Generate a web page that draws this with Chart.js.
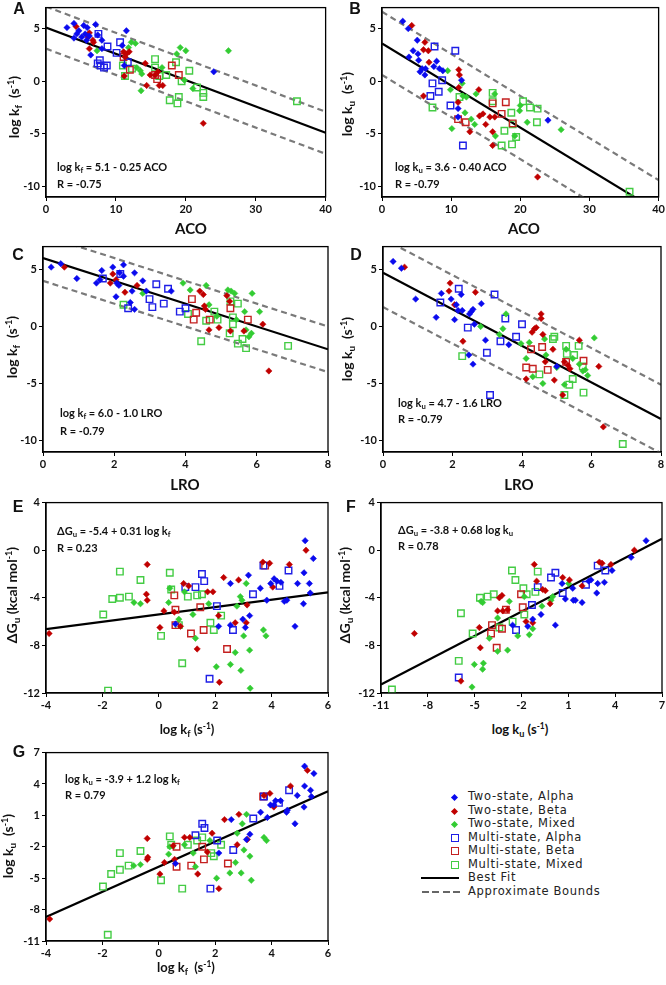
<!DOCTYPE html>
<html>
<head>
<meta charset="utf-8">
<script src="https://cdn.jsdelivr.net/npm/chart.js@4.4.1/dist/chart.umd.min.js"></script>
<style>
body { margin:0; background:#fff; width:666px; height:985px; position:relative; overflow:hidden; font-family:Lato, sans-serif; color:#111; }
canvas { position:absolute; }
.t { position:absolute; white-space:nowrap; font-weight:bold; line-height:1; transform:translateY(-50%); }
.c { transform:translate(-50%,-50%); }
.r { transform:translate(-50%,-50%) rotate(-90deg); }
.eq { font-size:11px; }
.ax { font-size:14px; }
.pl { font-family:"Liberation Sans", Arial, sans-serif; font-size:16px; }
.sb { font-size:70%; vertical-align:-0.3em; }
.sp { font-size:65%; vertical-align:0.55em; }
#legend { position:absolute; left:0; top:0; font-family:"DejaVu Sans", sans-serif; font-size:11.5px; color:#222; }
#legend div { position:absolute; white-space:nowrap; line-height:1; transform:translateY(-50%); letter-spacing:0.7px; }
.mk { position:absolute; box-sizing:border-box; }
</style>
</head>
<body>
<canvas id="pA"></canvas>
<canvas id="pB"></canvas>
<canvas id="pC"></canvas>
<canvas id="pD"></canvas>
<canvas id="pE"></canvas>
<canvas id="pF"></canvas>
<canvas id="pG"></canvas>

<!-- panel letters -->
<div class="t c pl" style="left:19px;top:9px">A</div>
<div class="t c pl" style="left:355px;top:9px">B</div>
<div class="t c pl" style="left:18px;top:255px">C</div>
<div class="t c pl" style="left:356px;top:255px">D</div>
<div class="t c pl" style="left:18px;top:507px">E</div>
<div class="t c pl" style="left:351px;top:507px">F</div>
<div class="t c pl" style="left:19px;top:752px">G</div>

<!-- fit equations -->
<div class="t eq" style="left:57px;top:168px">log k<span class="sb">f</span> = 5.1 - 0.25 ACO</div>
<div class="t eq" style="left:57px;top:183px">R = -0.75</div>
<div class="t eq" style="left:395px;top:168px">log k<span class="sb">u</span> = 3.6 - 0.40 ACO</div>
<div class="t eq" style="left:395px;top:183px">R = -0.79</div>
<div class="t eq" style="left:60px;top:414px">log k<span class="sb">f</span> = 6.0 - 1.0 LRO</div>
<div class="t eq" style="left:60px;top:430px">R = -0.79</div>
<div class="t eq" style="left:398px;top:404px">log k<span class="sb">u</span> = 4.7 - 1.6 LRO</div>
<div class="t eq" style="left:398px;top:418px">R = -0.79</div>
<div class="t eq" style="left:57px;top:532px">ΔG<span class="sb">u</span> = -5.4 + 0.31 log k<span class="sb">f</span></div>
<div class="t eq" style="left:57px;top:547px">R = 0.23</div>
<div class="t eq" style="left:398px;top:531px">ΔG<span class="sb">u</span> = -3.8 + 0.68 log k<span class="sb">u</span></div>
<div class="t eq" style="left:398px;top:545px">R = 0.78</div>
<div class="t eq" style="left:65px;top:780px">log k<span class="sb">u</span> = -3.9 + 1.2 log k<span class="sb">f</span></div>
<div class="t eq" style="left:65px;top:794px">R = 0.79</div>

<!-- axis titles -->
<div class="t c ax" style="left:191px;top:228px;font-size:15px">ACO</div>
<div class="t c ax" style="left:524px;top:228px;font-size:15px">ACO</div>
<div class="t c ax" style="left:185px;top:484px;font-size:15px">LRO</div>
<div class="t c ax" style="left:519px;top:484px;font-size:15px">LRO</div>
<div class="t c ax" style="left:187px;top:730px;font-size:13px">log k<span class="sb">f</span> (s<span class="sp">-1</span>)</div>
<div class="t c ax" style="left:520px;top:730px;font-size:13px">log k<span class="sb">u</span> (s<span class="sp">-1</span>)</div>
<div class="t c ax" style="left:186px;top:968px;font-size:13px">log k<span class="sb">f</span>&nbsp;&nbsp;(s<span class="sp">-1</span>)</div>
<div class="t r ax" style="left:15px;top:107px">log k<span class="sb">f</span>&nbsp;&nbsp;(s<span class="sp">-1</span>)</div>
<div class="t r ax" style="left:348px;top:104px">log k<span class="sb">u</span>&nbsp;&nbsp;(s<span class="sp">-1</span>)</div>
<div class="t r ax" style="left:13px;top:347px">log k<span class="sb">f</span>&nbsp;&nbsp;(s<span class="sp">-1</span>)</div>
<div class="t r ax" style="left:348px;top:349px">log k<span class="sb">u</span>&nbsp;&nbsp;(s<span class="sp">-1</span>)</div>
<div class="t r ax" style="left:13px;top:595px">ΔG<span class="sb">u</span> (kcal mol<span class="sp">-1</span>)</div>
<div class="t r ax" style="left:346px;top:595px">ΔG<span class="sb">u</span> (kcal mol<span class="sp">-1</span>)</div>
<div class="t r ax" style="left:9px;top:846px">log k<span class="sb">u</span>&nbsp;&nbsp;(s<span class="sp">-1</span>)</div>

<div id="legend"></div>

<script>
// series (same order in every panel)
const seriesNames = ['Two-state, Alpha', 'Two-state, Beta', 'Two-state, Mixed',
                     'Multi-state, Alpha', 'Multi-state, Beta', 'Multi-state, Mixed'];
const seriesColors = ['#0a0aee', '#c00000', '#33cc33', '#1e1ee6', '#c42020', '#44cc44'];

// A: ACO vs log kf
const aTwoAlpha = [[3.0,5.1],[4.0,5.5],[4.0,4.1],[4.4,4.5],[4.7,4.8],[5.1,4.2],[5.4,5.3],[5.6,4.5],[5.8,3.9],[5.9,5.1],[6.2,4.3],[6.4,2.5],[7.1,5.4],[7.4,4.4],[8.0,3.9],[8.0,3.1],[10.9,3.4],[11.2,1.5],[11.5,4.8],[24.0,0.9]];
const aTwoBeta = [[4.3,5.2],[6.0,4.2],[6.2,4.6],[6.2,3.1],[6.7,3.9],[6.8,3.7],[11.1,2.8],[11.3,2.3],[11.5,2.6],[11.9,2.8],[11.2,0.5],[14.2,1.7],[14.4,-0.4],[14.9,0.6],[15.6,0.6],[16.2,-0.4],[16.7,-0.4],[16.0,0.9],[22.5,-4.0]];
const aTwoMixed = [[7.3,2.9],[11.8,3.2],[12.2,3.7],[12.8,3.6],[13.0,1.3],[13.5,1.0],[13.6,-0.9],[13.7,0.7],[16.6,1.3],[18.7,2.6],[19.2,3.2],[20.0,2.9],[19.8,0.1],[21.0,-0.7],[26.1,2.9]];
const aMultiAlpha = [[7.5,4.5],[7.7,2.0],[7.4,1.7],[7.8,1.5],[8.3,1.3],[8.7,1.5],[8.8,3.3],[10.1,2.7],[10.6,3.7],[11.7,1.8]];
const aMultiBeta = [[11.1,2.3],[12.0,1.1],[15.6,0.6],[15.9,0.2],[18.0,1.5],[19.0,0.6]];
const aMultiMixed = [[11.0,1.5],[11.3,0.5],[12.3,1.2],[15.6,2.1],[15.6,1.3],[16.2,0.5],[17.2,0.6],[17.7,-1.8],[18.6,1.8],[18.8,-2.1],[19.0,-1.5],[19.4,0.0],[20.5,1.0],[21.6,-0.6],[22.5,-1.1],[22.5,-1.5],[35.9,-1.9]];

// B: ACO vs log ku
const bTwoAlpha = [[3.0,5.7],[3.8,5.0],[3.9,2.3],[4.5,2.9],[5.1,3.9],[5.2,2.6],[5.3,2.0],[5.5,0.9],[5.8,1.2],[6.2,0.6],[6.3,1.2],[7.5,1.4],[7.9,1.9],[8.3,1.2],[8.8,1.0],[11.0,-2.6],[11.0,-3.4],[11.5,0.1],[24.0,-3.7]];
const bTwoBeta = [[4.3,5.3],[6.2,3.7],[6.0,3.0],[6.7,2.9],[6.8,1.8],[6.0,-1.4],[11.1,1.1],[11.2,0.6],[11.1,-0.6],[11.0,-2.0],[12.7,-4.8],[14.0,-0.8],[14.1,-3.3],[14.6,-3.1],[15.0,-4.1],[15.6,-3.4],[16.0,-4.8],[16.0,-6.1],[16.3,-3.4],[22.5,-9.1]];
const bTwoMixed = [[9.5,1.0],[9.9,-0.8],[10.1,-4.5],[11.6,-0.2],[11.7,-1.4],[12.0,-3.0],[12.2,-1.5],[12.9,-3.6],[13.4,-4.1],[13.6,-1.2],[16.3,-1.2],[16.4,-5.2],[19.2,-5.2],[19.9,-2.8],[20.0,-2.3],[21.0,-3.9],[25.9,-4.6]];
const bMultiAlpha = [[7.6,3.3],[10.6,2.9],[7.3,-0.2],[7.0,-1.4],[8.2,-1.0],[8.7,0.1],[9.9,-2.3],[11.7,-6.1]];
const bMultiBeta = [[11.0,-3.6],[12.1,-3.9],[16.0,-2.1],[17.3,-3.1],[17.9,-2.0],[18.9,-4.0]];
const bMultiMixed = [[7.3,-2.5],[11.2,-1.5],[16.0,-1.1],[16.0,-1.9],[17.3,-6.1],[17.7,-4.7],[18.7,-3.0],[18.8,-6.0],[18.9,-4.1],[19.4,-5.3],[20.4,-1.9],[21.4,-2.5],[22.4,-3.9],[22.5,-2.6],[35.8,-10.5]];

// C: LRO vs log kf
const cTwoAlpha = [[0.23,5.2],[0.5,5.5],[0.95,4.2],[1.5,3.8],[1.6,4.1],[1.65,4.9],[1.96,5.2],[2.07,3.8],[2.05,2.6],[2.15,4.7],[2.26,5.4],[2.26,4.4],[2.13,3.6],[2.5,3.1],[2.45,2.1],[2.57,4.7],[2.57,1.5],[2.8,4.0],[2.9,3.1],[3.6,3.1]];
const cTwoBeta = [[0.6,5.2],[1.89,3.8],[1.96,4.6],[2.05,4.1],[2.3,3.0],[2.64,3.6],[4.4,3.1],[4.5,2.8],[4.53,1.8],[4.56,1.5],[4.66,-0.3],[4.94,-0.1],[5.16,2.7],[5.24,2.2],[5.26,-0.4],[5.64,-0.4],[6.17,0.2],[6.34,-3.9]];
const cTwoMixed = [[2.8,2.9],[3.93,3.8],[4.13,3.2],[4.58,3.6],[4.66,1.9],[4.88,0.9],[5.19,3.2],[5.28,3.1],[5.38,2.9],[5.66,1.3],[5.7,-0.3],[5.78,-0.9],[5.85,-0.6],[5.87,2.9],[6.08,1.3],[5.43,0.6]];
const cMultiAlpha = [[1.68,4.2],[2.17,4.6],[2.39,1.6],[2.99,2.4],[3.07,1.7],[3.18,3.7],[3.39,2.0],[3.51,3.3],[3.84,1.3],[4.0,1.6]];
const cMultiBeta = [[4.18,2.4],[4.3,1.2],[4.23,0.6],[4.68,0.6],[5.26,1.6],[5.75,0.6]];
const cMultiMixed = [[2.26,1.9],[4.07,1.1],[4.44,-1.3],[4.58,0.5],[4.81,1.3],[4.9,0.6],[5.26,2.2],[5.33,0.8],[5.33,0.2],[5.24,-0.6],[5.47,2.0],[5.47,-1.5],[5.6,-1.1],[5.7,-1.9],[6.88,-1.7]];

// D: LRO vs log ku
const dTwoAlpha = [[0.29,5.7],[0.53,5.1],[0.94,2.4],[1.53,0.8],[1.68,2.9],[1.96,2.4],[2.06,0.6],[2.11,1.9],[2.16,1.4],[2.25,2.8],[2.28,1.4],[2.49,1.1],[2.54,1.3],[2.59,1.5],[2.63,0.2],[2.47,-2.5],[2.59,-3.3],[2.83,2.0],[2.95,-1.2],[3.62,-1.6],[5.0,-3.5]];
const dTwoBeta = [[0.62,5.2],[1.93,3.8],[1.9,3.1],[2.06,1.9],[2.3,-1.3],[2.66,3.0],[4.12,-4.6],[4.29,-0.5],[4.36,-0.2],[4.41,-0.1],[4.55,1.1],[4.55,0.7],[4.6,-0.7],[4.67,-3.1],[4.89,-2.0],[4.93,-4.7],[5.17,-6.0],[5.22,-3.1],[5.32,-3.4],[5.38,-3.7],[5.65,-1.2],[6.21,-3.5],[6.34,-8.8]];
const dTwoMixed = [[2.81,0.0],[3.45,-0.2],[3.54,1.1],[3.35,-0.7],[3.97,-1.5],[4.12,-2.8],[4.21,-1.4],[4.31,-4.4],[4.6,-5.0],[4.65,-1.1],[4.69,-2.5],[5.0,-3.6],[5.22,-5.1],[5.27,-2.0],[5.46,-2.8],[5.65,-3.3],[5.75,-3.9],[5.82,-3.8],[5.89,-4.3],[6.08,-1.0]];
const dMultiAlpha = [[1.65,2.1],[2.18,3.3],[2.44,-0.1],[2.99,-2.3],[3.08,-6.0],[3.21,2.8],[3.38,-1.3],[3.52,0.7],[3.83,-0.9],[4.0,0.2]];
const dMultiBeta = [[4.12,-3.6],[4.26,-2.0],[4.31,-3.7],[4.58,-1.8],[4.74,-3.8],[5.27,-3.1],[5.77,-3.0]];
const dMultiMixed = [[2.28,-2.6],[4.5,-4.2],[4.89,-1.1],[4.93,-0.9],[5.27,-1.7],[5.29,-2.4],[5.5,-2.5],[5.36,-5.1],[5.22,-6.0],[5.46,-4.6],[5.63,-1.7],[5.75,-3.5],[5.77,-5.8],[6.9,-10.3]];

// E: log kf vs dGu
const eTwoAlpha = [[2.54,-2.8],[2.54,-6.3],[2.98,-5.8],[3.07,-6.5],[3.18,-2.1],[3.22,-5.5],[3.6,-3.2],[3.83,-4.2],[3.97,-2.8],[4.09,-2.4],[4.19,-2.6],[4.33,-2.7],[4.45,-4.3],[4.54,-4.2],[4.83,-6.4],[4.92,-2.8],[5.13,-4.5],[5.15,-1.9],[5.19,0.8],[5.34,-2.8],[5.37,-3.6],[5.48,-0.7],[2.12,-6.4],[0.59,-6.2]];
const eTwoBeta = [[-3.89,-7.0],[-0.41,-1.2],[-0.44,-3.7],[-0.41,-4.2],[0.04,-6.5],[0.18,-5.1],[0.55,-5.2],[0.88,-2.8],[1.06,-3.0],[0.77,-6.4],[1.36,-8.3],[1.73,-3.5],[1.92,-3.5],[2.12,-5.5],[2.15,-11.1],[2.3,-2.3],[2.71,-6.1],[2.83,-2.5],[3.13,-4.6],[3.1,-6.1],[3.69,-1.0],[3.93,-1.1],[4.04,-3.1],[4.63,-1.2],[5.22,0.0]];
const eTwoMixed = [[-0.88,-4.4],[-0.65,-4.5],[0.35,-4.4],[0.39,-3.2],[0.91,-3.5],[1.21,-5.4],[1.3,-7.4],[1.77,-4.5],[2.04,-9.8],[2.54,-9.6],[2.71,-8.6],[2.77,-4.7],[2.89,-3.9],[2.95,-4.2],[3.01,-7.2],[3.1,-2.8],[2.91,-10.1],[3.22,-8.4],[3.24,-11.6],[3.71,-6.7],[3.8,-7.2],[0.71,-5.8]];
const eMultiAlpha = [[0.94,-3.1],[1.3,-3.1],[1.53,-2.0],[1.61,-2.6],[1.8,-10.8],[2.06,-4.7],[2.63,-6.7],[3.34,-3.7],[3.71,-1.3],[4.28,-3.0],[4.6,-1.7]];
const eMultiBeta = [[0.55,-3.8],[0.59,-5.0],[0.59,-6.3],[1.14,-7.0],[1.47,-4.8],[1.59,-6.7],[2.42,-8.3],[3.77,-1.3]];
const eMultiMixed = [[-1.97,-5.4],[-1.8,-11.8],[-1.65,-4.1],[-1.38,-1.8],[-1.38,-4.0],[-1.06,-3.9],[-0.65,-2.5],[0.08,-7.2],[0.39,-1.9],[0.44,-3.3],[0.71,-6.3],[0.83,-9.5],[1.03,-3.9],[1.36,-3.8],[1.53,-3.7],[1.83,-6.1],[1.95,-6.7],[2.21,-5.5]];

// F: log ku vs dGu
const fTwoAlpha = [[5.98,0.8],[5.02,-0.6],[3.8,-1.7],[2.88,-2.8],[2.82,-3.6],[2.45,-2.5],[2.3,-2.6],[1.88,-4.4],[1.45,-4.2],[1.32,-4.2],[1.28,-3.2],[0.81,-4.1],[0.6,-2.8],[0.17,-6.3],[-0.75,-5.4],[-1.28,-5.8],[-1.6,-6.4],[-2.57,-6.3],[3.31,-2.7]];
const fTwoBeta = [[-8.86,-7.0],[-5.88,-11.0],[-4.7,-6.5],[-4.64,-8.2],[-3.42,-4.0],[-3.25,-3.8],[-3.53,-5.1],[-3.2,-5.1],[-2.89,-5.0],[-1.71,-6.0],[-1.28,-6.1],[-1.18,-1.2],[-1.03,-2.6],[-0.64,-3.3],[-0.47,-3.4],[-0.17,-4.5],[0.64,-2.3],[1.07,-2.5],[1.88,-3.0],[2.99,-1.0],[3.16,-1.1],[3.73,-1.2],[5.23,0.0]];
const fTwoMixed = [[-5.17,-11.5],[-5.02,-9.6],[-4.49,-10.0],[-4.44,-9.5],[-4.59,-4.3],[-4.49,-4.4],[-4.06,-7.4],[-3.53,-5.7],[-3.53,-8.5],[-2.89,-8.4],[-2.78,-4.3],[-2.24,-7.2],[-1.82,-3.9],[-1.5,-7.1],[-1.28,-6.6],[-0.69,-4.7],[-0.11,-4.2],[0.0,-3.9],[1.02,-2.8]];
const fMultiAlpha = [[-6.02,-10.7],[-2.35,-6.7],[-1.33,-4.6],[-0.96,-3.1],[-0.11,-2.3],[0.17,-1.9],[0.64,-3.6],[2.13,-2.9],[2.88,-1.3],[3.37,-1.7]];
const fMultiBeta = [[-3.95,-7.0],[-3.59,-8.2],[-3.25,-6.6],[-3.0,-5.0],[-2.03,-3.7],[-1.92,-4.8],[-3.89,-6.3]];
const fMultiMixed = [[-10.3,-11.7],[-6.02,-9.3],[-5.88,-5.3],[-5.13,-7.0],[-4.66,-4.0],[-4.17,-3.9],[-3.78,-3.7],[-3.42,-6.5],[-2.61,-1.7],[-2.39,-2.5],[-2.57,-6.0],[-1.88,-3.2],[-1.67,-3.7],[-1.82,-5.4],[-1.11,-3.5],[-0.96,-1.8]];

// G: log kf vs log ku
const gTwoAlpha = [[5.17,5.7],[5.5,5.0],[5.17,3.8],[5.38,3.4],[5.41,2.8],[4.91,2.9],[5.15,1.8],[4.83,0.2],[4.53,1.3],[4.56,1.5],[4.32,2.4],[4.14,2.4],[4.08,2.0],[3.96,2.0],[3.85,0.8],[3.61,1.3],[3.23,-0.8],[3.11,-1.3],[2.57,0.6],[2.13,-2.6],[0.59,-3.6]];
const gTwoBeta = [[-3.87,-8.9],[-0.41,-1.2],[-0.39,-3.0],[-0.41,-3.2],[0.04,-4.6],[0.2,-3.5],[0.51,-1.9],[0.56,-3.2],[0.91,-1.1],[1.1,-1.1],[1.38,-4.6],[1.72,-2.5],[1.89,-0.7],[2.13,-6.0],[2.33,0.6],[2.78,-1.8],[2.84,1.1],[3.14,-1.3],[3.73,2.9],[3.94,3.1],[4.08,1.8],[4.67,3.8],[5.27,5.3]];
const gTwoMixed = [[-0.89,-3.8],[-0.65,-3.7],[0.35,-2.7],[0.39,-2.0],[0.91,-1.8],[1.22,-2.6],[1.3,-3.9],[1.81,-1.4],[2.05,-5.0],[2.52,-4.5],[2.72,-3.5],[2.78,-0.7],[2.92,-4.5],[2.96,0.2],[3.02,-2.3],[3.11,1.1],[3.23,-2.9],[3.28,-5.2],[3.73,-1.1],[3.82,-1.4]];
const gMultiAlpha = [[1.3,-0.9],[1.54,0.2],[1.62,-0.2],[2.07,-1.4],[1.83,-6.0],[2.64,-2.3],[3.35,0.7],[3.73,2.8],[4.26,2.2],[4.62,3.4]];
const gMultiBeta = [[0.63,-2.0],[0.63,-3.9],[1.15,-3.8],[1.54,-2.0],[1.6,-3.2],[2.45,-3.6],[3.7,2.8]];
const gMultiMixed = [[-1.98,-5.8],[-1.81,-10.4],[-1.69,-4.6],[-1.38,-4.2],[-1.38,-2.6],[-1.07,-3.8],[-0.65,-2.4],[0.08,-5.2],[0.39,-1.0],[0.44,-1.8],[0.83,-6.0],[1.03,-1.8],[1.36,-1.4],[1.54,-1.1],[1.86,-2.6],[1.95,-2.9],[2.21,-1.8]];

// fits: [intercept, slope], bounds offset
const fitA = [5.1, -0.25], boundA = 2;
const fitB = [3.6, -0.40], boundB = 3;
const fitC = [6.0, -1.0], boundC = 2;
const fitD = [4.7, -1.6], boundD = 3;
const fitE = [-5.4, 0.31];
const fitF = [-3.8, 0.68];
const fitG = [-3.9, 1.2];

// tick labels
const ticksAco = [0, 10, 20, 30, 40];
const ticksLro = [0, 2, 4, 6, 8];
const ticksLog = [-10, -5, 0, 5];
const ticksKf = [-4, -2, 0, 2, 4, 6];
const ticksKu = [-11, -8, -5, -2, 1, 4, 7];
const ticksDg = [-12, -8, -4, 0, 4];

Chart.defaults.font.family = 'Lato';

const boxPlugin = {
  id: 'box',
  afterDraw(chart) {
    const a = chart.chartArea, ctx = chart.ctx;
    ctx.save();
    ctx.strokeStyle = '#000';
    ctx.lineWidth = 1.3;
    ctx.strokeRect(a.left, a.top, a.right - a.left, a.bottom - a.top);
    ctx.restore();
  }
};

function pointSets(arrs) {
  return arrs.map((a, i) => ({
    type: 'scatter',
    label: seriesNames[i],
    data: a.map(p => ({x: p[0], y: p[1]})),
    pointStyle: i < 3 ? 'rectRot' : 'rect',
    pointRadius: i < 3 ? 3.2 : 4.6,
    backgroundColor: i < 3 ? seriesColors[i] : 'rgba(0,0,0,0)',
    borderColor: seriesColors[i],
    borderWidth: i < 3 ? 0.5 : 1.4,
    order: 1
  }));
}

function fitSets(fit, bound, xr) {
  const line = (off, color, dash) => ({
    type: 'line',
    data: xr.map(x => ({x: x, y: fit[0] + off + fit[1] * x})),
    borderColor: color, borderWidth: 2.2, borderDash: dash,
    pointRadius: 0, fill: false, order: 5
  });
  const out = [line(0, '#000', [])];
  if (bound) {
    out.push(line(bound, '#7a7a7a', [6, 4]));
    out.push(line(-bound, '#7a7a7a', [6, 4]));
  }
  return out;
}

function axis(min, max, ticks, isX) {
  return {
    type: 'linear', min: min, max: max,
    afterBuildTicks: s => { s.ticks = ticks.map(v => ({value: v})); },
    afterFit: s => { if (isX) s.height = 26; else s.width = 40; },
    grid: {drawOnChartArea: false, drawTicks: true, tickLength: 4, color: '#000', lineWidth: 1},
    border: {display: true, color: '#000', width: 1.3},
    ticks: {color: '#111', font: {family: 'Lato', weight: 'bold', size: 11}, padding: 2, maxRotation: 0, autoSkip: false}
  };
}

// area = chart area box in page pixels [left, top, right, bottom]
function panel(id, area, xr, yr, xt, yt, series, fit, bound) {
  const cv = document.getElementById(id);
  const w = area[2] - area[0] + 48, h = area[3] - area[1] + 34;
  cv.width = w; cv.height = h;
  cv.style.left = (area[0] - 40) + 'px';
  cv.style.top = (area[1] - 8) + 'px';
  new Chart(cv, {
    type: 'scatter',
    data: {datasets: pointSets(series).concat(fitSets(fit, bound, xr))},
    options: {
      responsive: false,
      animation: false,
      layout: {padding: {top: 8, right: 8, left: 0, bottom: 0}},
      plugins: {legend: {display: false}, tooltip: {enabled: false}},
      scales: {x: axis(xr[0], xr[1], xt, true), y: axis(yr[0], yr[1], yt, false)}
    },
    plugins: [boxPlugin]
  });
}

panel('pA', [46, 7, 326, 197], [0, 40], [-11, 7], ticksAco, ticksLog,
  [aTwoAlpha, aTwoBeta, aTwoMixed, aMultiAlpha, aMultiBeta, aMultiMixed], fitA, boundA);
panel('pB', [382, 7, 659, 197], [0, 40], [-11, 7], ticksAco, ticksLog,
  [bTwoAlpha, bTwoBeta, bTwoMixed, bMultiAlpha, bMultiBeta, bMultiMixed], fitB, boundB);
panel('pC', [43, 246, 328, 452], [0, 8], [-11, 7], ticksLro, ticksLog,
  [cTwoAlpha, cTwoBeta, cTwoMixed, cMultiAlpha, cMultiBeta, cMultiMixed], fitC, boundC);
panel('pD', [383, 246, 661, 452], [0, 8], [-11, 7], ticksLro, ticksLog,
  [dTwoAlpha, dTwoBeta, dTwoMixed, dMultiAlpha, dMultiBeta, dMultiMixed], fitD, boundD);
panel('pE', [46, 502, 328, 693], [-4, 6], [-12, 4], ticksKf, ticksDg,
  [eTwoAlpha, eTwoBeta, eTwoMixed, eMultiAlpha, eMultiBeta, eMultiMixed], fitE, 0);
panel('pF', [381, 502, 662, 693], [-11, 7], [-12, 4], ticksKu, ticksDg,
  [fTwoAlpha, fTwoBeta, fTwoMixed, fMultiAlpha, fMultiBeta, fMultiMixed], fitF, 0);
panel('pG', [46, 752, 328, 941], [-4, 6], [-11, 7], ticksKf, ticksKu,
  [gTwoAlpha, gTwoBeta, gTwoMixed, gMultiAlpha, gMultiBeta, gMultiMixed], fitG, 0);

// legend
const legendRows = [797, 811, 824, 838, 851, 865, 878, 892];
const lg = document.getElementById('legend');
seriesNames.concat(['Best Fit', 'Approximate Bounds']).forEach((name, i) => {
  const y = legendRows[i];
  const t = document.createElement('div');
  t.textContent = name;
  t.style.left = '468px';
  t.style.top = y + 'px';
  lg.appendChild(t);
  const m = document.createElement('span');
  m.className = 'mk';
  if (i < 3) {
    Object.assign(m.style, {left: '452px', top: (y - 2.5) + 'px', width: '5px', height: '5px',
      background: seriesColors[i], transform: 'rotate(45deg)'});
  } else if (i < 6) {
    Object.assign(m.style, {left: '450.5px', top: (y - 4) + 'px', width: '8px', height: '8px',
      borderStyle: 'solid', borderWidth: '1.8px', borderColor: seriesColors[i]});
  } else if (i === 6) {
    Object.assign(m.style, {left: '421px', top: (y - 1.2) + 'px', width: '38px', height: '2.5px',
      background: '#000'});
  } else {
    Object.assign(m.style, {left: '422px', top: (y - 1.2) + 'px', width: '38px', height: '2.5px',
      background: 'repeating-linear-gradient(90deg, #666 0 7px, transparent 7px 10.5px)'});
  }
  lg.appendChild(m);
});
</script>
</body>
</html>
